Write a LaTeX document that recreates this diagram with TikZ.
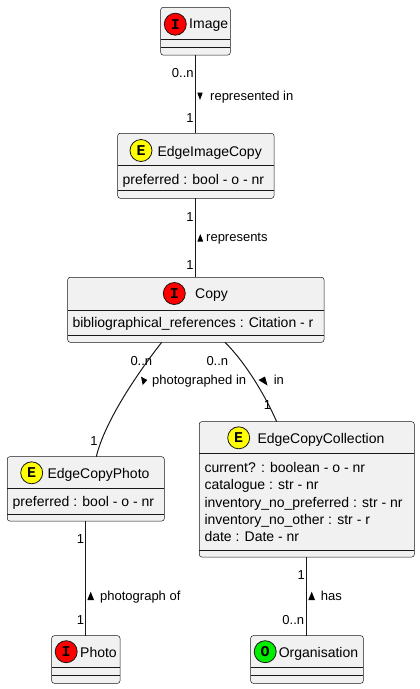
\documentclass[tikz,border=0pt]{standalone}
\usepackage{fontspec}
\setmainfont{Liberation Sans}
\newfontfamily\circfont{Liberation Mono}
\usetikzlibrary{calc}
\definecolor{umlfill}{HTML}{F1F1F1}
\definecolor{umlborder}{HTML}{181818}
\definecolor{cred}{HTML}{FF0000}
\definecolor{cyellow}{HTML}{FFFF00}
\definecolor{cgreen}{HTML}{00EE00}
\begin{document}
\begin{tikzpicture}[x=1pt,y=-1pt,
  cls/.style={draw=umlborder, fill=umlfill, rounded corners=2.5pt, line width=0.5pt, inner sep=0, outer sep=0},
  divline/.style={draw=umlborder, line width=0.5pt},
  conn/.style={draw=umlborder, line width=1pt},
  ttl/.style={anchor=base west, inner sep=0, font=\fontsize{14}{16}\selectfont},
  attr/.style={anchor=base west, inner sep=0, font=\fontsize{14}{16}\selectfont},
  lbl/.style={anchor=base west, inner sep=0, font=\fontsize{13}{15}\selectfont},
  lblr/.style={anchor=base east, inner sep=0, font=\fontsize{13}{15}\selectfont},
  circ/.style={circle, draw=umlborder, line width=0.8pt, minimum size=22pt, inner sep=0, font=\circfont\bfseries\fontsize{15}{15}\selectfont},
  tri/.style={fill=black}
]
\useasboundingbox (0,0) rectangle (420,689);

% ---------- Image ----------
\node[cls, minimum width=69.6pt, minimum height=47.7pt] (image) at (195.5,31.2) {};
\draw[divline] (image.west |- 0,39.3) -- (image.east |- 0,39.3);
\draw[divline] (image.west |- 0,47.3) -- (image.east |- 0,47.3);
\node[circ, fill=cred] (cimage) at (175.3,24.2) {I};
\node[ttl] (timage) at (189,28.8) {Image};

% ---------- EdgeImageCopy ----------
\node[cls, minimum width=156.3pt, minimum height=65pt] (eic) at (195.85,165.8) {};
\draw[divline] (eic.west |- 0,165) -- (eic.east |- 0,165);
\draw[divline] (eic.west |- 0,190.3) -- (eic.east |- 0,190.3);
\node[circ, fill=cyellow] (ceic) at (141,150.5) {E};
\node[ttl] (teic) at (157.3,156) {EdgeImageCopy};
\node[attr] (aeic) at (122.5,184) {preferred : bool - o - nr};

% ---------- Copy ----------
\node[cls, minimum width=256.3pt, minimum height=65pt] (copy) at (195.85,309.8) {};
\draw[divline] (copy.west |- 0,310) -- (copy.east |- 0,310);
\draw[divline] (copy.west |- 0,335.7) -- (copy.east |- 0,335.7);
\node[circ, fill=cred] (ccopy) at (174.3,293.5) {I};
\node[ttl] (tcopy) at (195,298.7) {Copy};
\node[attr] (acopy) at (72.3,327.5) {bibliographical\_references : Citation - r};

% ---------- EdgeCopyPhoto ----------
\node[cls, minimum width=157pt, minimum height=64.3pt] (ecp) at (85.8,488.85) {};
\draw[divline] (ecp.west |- 0,488.7) -- (ecp.east |- 0,488.7);
\draw[divline] (ecp.west |- 0,514) -- (ecp.east |- 0,514);
\node[circ, fill=cyellow] (cecp) at (31.7,472.8) {E};
\node[ttl] (tecp) at (47.3,478) {EdgeCopyPhoto};
\node[attr] (aecp) at (12.5,506.7) {preferred : bool - o - nr};

% ---------- EdgeCopyCollection ----------
\node[cls, minimum width=215pt, minimum height=135.3pt] (ecc) at (306.8,489.35) {};
\draw[divline] (ecc.west |- 0,453.3) -- (ecc.east |- 0,453.3);
\draw[divline] (ecc.west |- 0,550) -- (ecc.east |- 0,550);
\node[circ, fill=cyellow] (cecc) at (238.7,437.8) {E};
\node[ttl] (tecc) at (257.3,443.3) {EdgeCopyCollection};
\node[attr] (aecc1) at (204.3,472.3) {current? : boolean - o - nr};
\node[attr] (aecc2) at (204.3,489.7) {catalogue : str - nr};
\node[attr] (aecc3) at (204.3,507.1) {inventory\_no\_preferred : str - nr};
\node[attr] (aecc4) at (204.3,524.5) {inventory\_no\_other : str - r};
\node[attr] (aecc5) at (204.3,541.9) {date : Date - nr};

% ---------- Photo ----------
\node[cls, minimum width=68.3pt, minimum height=47.6pt] (photo) at (85.85,659.5) {};
\draw[divline] (photo.west |- 0,667.3) -- (photo.east |- 0,667.3);
\draw[divline] (photo.west |- 0,675.3) -- (photo.east |- 0,675.3);
\node[circ, fill=cred] (cphoto) at (66.2,651.7) {I};
\node[ttl] (tphoto) at (80,657.3) {Photo};

% ---------- Organisation ----------
\node[cls, minimum width=112.6pt, minimum height=47.6pt] (org) at (307,659.5) {};
\draw[divline] (org.west |- 0,667.3) -- (org.east |- 0,667.3);
\draw[divline] (org.west |- 0,675.3) -- (org.east |- 0,675.3);
\node[circ, fill=cgreen] (corg) at (265.2,651.7) {O};
\node[ttl] (torg) at (278.6,657.3) {Organisation};

% ---------- Connectors ----------
\draw[conn] (image.south) -- (image.south |- eic.north);
\draw[conn] (eic.south) -- (eic.south |- copy.north);
\draw[conn] ($(copy.south west)+(94,0)$) .. controls (140,370) and (105,420) .. ($(ecp.north west)+(89,0)$);
\draw[conn] ($(copy.south west)+(157.3,0)$) .. controls (245,362) and (265,395) .. ($(ecc.north west)+(77.4,0)$);
\draw[conn] (ecp.south) -- (ecp.south |- photo.north);
\draw[conn] (ecc.south) -- (ecc.south |- org.north);

% ---------- Labels ----------
\node[lblr] (l1) at (193.8,77.4) {0..n};
\fill[tri] (197.3,92.7) -- (202.7,92.7) -- (200,100) -- cycle;
\node[lbl] (l2) at (210,100) {represented in};
\node[lblr] (l3) at (193.8,122.5) {1};

\node[lblr] (l4) at (193.8,221.5) {1};
\fill[tri] (197.3,241.7) -- (203.3,241.7) -- (200.3,234) -- cycle;
\node[lbl] (l5) at (206,241.7) {represents};
\node[lblr] (l6) at (193.8,269.8) {1};

\node[lbl] (l7) at (130.3,365) {0..n};
\fill[tri] (141,376.7) -- (142.7,385) -- (147.3,380) -- cycle;
\node[lbl] (l8) at (152,384.5) {photographed in};
\node[lblr] (l9) at (97.8,445.7) {1};

\node[lbl] (l10) at (206.3,365) {0..n};
\fill[tri] (258.5,380) -- (265,376.5) -- (267.5,385.5) -- cycle;
\node[lbl] (l11) at (273.6,384.5) {in};
\node[lblr] (l12) at (271.3,409.5) {1};

\node[lblr] (l13) at (84.4,543.3) {1};
\fill[tri] (87.3,600) -- (94,600) -- (90.7,591.7) -- cycle;
\node[lbl] (l14) at (100,600) {photograph of};
\node[lblr] (l15) at (84.4,624) {1};

\node[lblr] (l16) at (305.1,579.3) {1};
\fill[tri] (308.3,600) -- (315,600) -- (311.7,591.7) -- cycle;
\node[lbl] (l17) at (320.6,600) {has};
\node[lblr] (l18) at (304.3,624) {0..n};
\end{tikzpicture}
\end{document}
